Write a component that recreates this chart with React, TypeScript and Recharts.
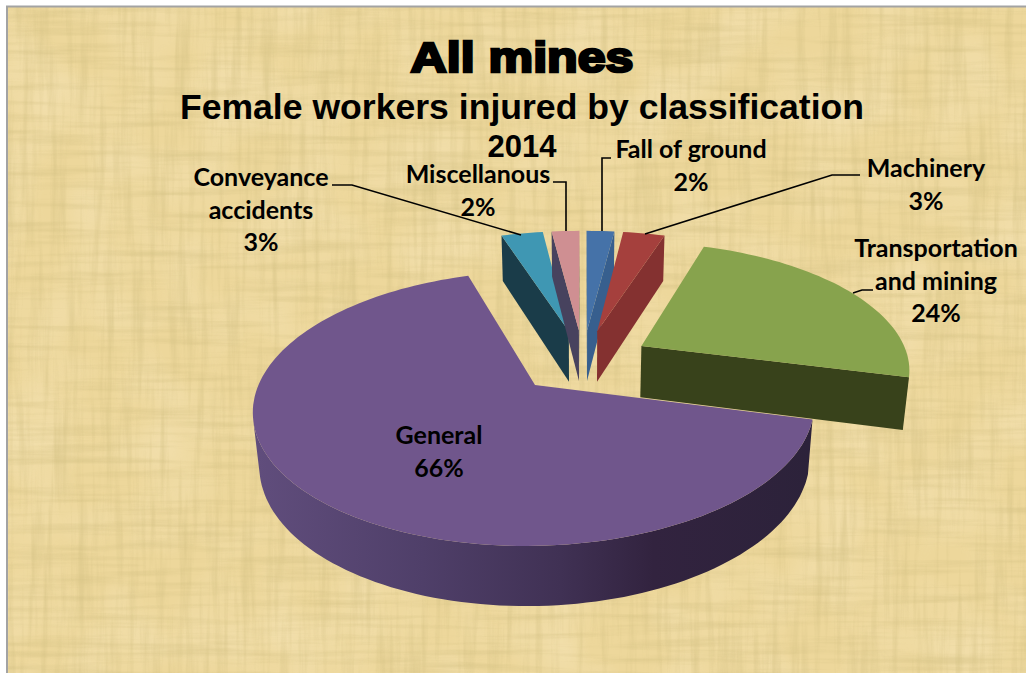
import React from "react";
import { PieChart, Pie, Cell } from "recharts";

const categories = ["Fall of ground", "Machinery", "Transportation and mining", "General", "Conveyance accidents", "Miscellanous"];
const injuredShare = [2, 3, 24, 66, 3, 2];

const topColors = ["#4572a8", "#a5403d", "#87a34d", "#70568c", "#3f97b3", "#cf8f92"];
const wallColors = ["#375f8e", "#843130", "#38421b", "url(#generalWall)", "#1a3c49", "#47425e"];

const labelLines = [
  ["Fall of ground", "2%"],
  ["Machinery", "3%"],
  ["Transportation", "and mining", "24%"],
  ["General", "66%"],
  ["Conveyance", "accidents", "3%"],
  ["Miscellanous", "2%"],
];
const labelAnchors = [
  [691, 158],
  [926, 177],
  [936, 257],
  [439, 444],
  [261, 186],
  [478, 183],
];
const leaders = [
  "611,158 602,158 602,231",
  "860,175 832,175 645,234",
  "873,290 862,290 853,293",
  "",
  "332,185 352,185 521,235",
  "553,182 566,182 566,231",
];

const pieData = categories.map((name, i) => ({ name, value: injuredShare[i] }));

// projection of the tilted pie
const EXPLODE = 68;
const DIST = 1617;
const TILT = 0.468;
const DEPTH = 53;
const DEPTH_W = 0.019;

type Pt = [number, number];

function SliceShape(props: any) {
  const { cx, cy, outerRadius, startAngle, endAngle, index } = props;
  const a0 = ((90 - startAngle) * Math.PI) / 180;
  const a1 = ((90 - endAngle) * Math.PI) / 180;
  const mid = (a0 + a1) / 2;
  const ox = EXPLODE * Math.sin(mid);
  const oy = -EXPLODE * Math.cos(mid);
  const project = (X: number, Y: number, low: boolean): Pt => {
    const w = 1 - Y / DIST + (low ? DEPTH_W : 0);
    return [cx + X / w, cy + (TILT * Y + (low ? DEPTH : 0)) / w];
  };
  const n = Math.max(2, Math.ceil(Math.abs(a1 - a0) / 0.03));
  const arcTop: Pt[] = [];
  const arcLow: Pt[] = [];
  for (let i = 0; i <= n; i++) {
    const t = a0 + ((a1 - a0) * i) / n;
    const X = ox + outerRadius * Math.sin(t);
    const Y = oy - outerRadius * Math.cos(t);
    arcTop.push(project(X, Y, false));
    arcLow.push(project(X, Y, true));
  }
  const apexTop = project(ox, oy, false);
  const apexLow = project(ox, oy, true);

  const toPath = (pts: Pt[]) => "M" + pts.map((p) => p[0].toFixed(1) + "," + p[1].toFixed(1)).join("L") + "Z";
  const facing = (a: Pt, b: Pt, c: Pt, d: Pt) => {
    const q = [a, b, c, d];
    let s = 0;
    for (let i = 0; i < 4; i++) {
      const p = q[i];
      const r = q[(i + 1) % 4];
      s += p[0] * r[1] - r[0] * p[1];
    }
    return s < 0;
  };

  const walls: string[] = [];
  if (facing(apexTop, arcTop[0], arcLow[0], apexLow)) walls.push(toPath([apexTop, arcTop[0], arcLow[0], apexLow]));
  if (facing(arcTop[n], apexTop, apexLow, arcLow[n])) walls.push(toPath([arcTop[n], apexTop, apexLow, arcLow[n]]));
  const seen: number[] = [];
  for (let i = 0; i < n; i++) {
    if (facing(arcTop[i], arcTop[i + 1], arcLow[i + 1], arcLow[i])) seen.push(i);
  }
  if (seen.length) {
    const first = seen[0];
    const last = seen[seen.length - 1] + 1;
    walls.push(toPath([...arcTop.slice(first, last + 1), ...arcLow.slice(first, last + 1).reverse()]));
  }

  return (
    <g>
      {walls.map((d, i) => (
        <path key={i} d={d} fill={wallColors[index]} />
      ))}
      <path d={toPath([apexTop, ...arcTop])} fill={topColors[index]} />
    </g>
  );
}

function SliceLabel(props: any) {
  const { index } = props;
  const [x, y] = labelAnchors[index];
  return (
    <g>
      {leaders[index] && <polyline points={leaders[index]} fill="none" stroke="#000" strokeWidth={1.6} />}
      <text x={x} y={y} textAnchor="middle" fontFamily="Lato" fontWeight={700} fontSize={25} fill="#000">
        {labelLines[index].map((line, i) => (
          <tspan key={i} x={x} y={y + i * 32.5}>
            {line}
          </tspan>
        ))}
      </text>
    </g>
  );
}

function Background() {
  return (
    <svg width={1026} height={673} style={{ position: "absolute", left: 0, top: 0 }}>
      <defs>
        <filter id="weaveH" x="0" y="0" width="100%" height="100%">
          <feTurbulence type="fractalNoise" baseFrequency="0.008 0.14" numOctaves={4} seed={7} />
          <feColorMatrix values="0 0 0 0 0.64  0 0 0 0 0.52  0 0 0 0 0.22  2.6 0 0 0 -1.15" />
        </filter>
        <filter id="weaveV" x="0" y="0" width="100%" height="100%">
          <feTurbulence type="fractalNoise" baseFrequency="0.14 0.008" numOctaves={4} seed={11} />
          <feColorMatrix values="0 0 0 0 0.64  0 0 0 0 0.52  0 0 0 0 0.22  2.6 0 0 0 -1.15" />
        </filter>
        <filter id="blotch" x="0" y="0" width="100%" height="100%">
          <feTurbulence type="fractalNoise" baseFrequency="0.015 0.015" numOctaves={2} seed={3} />
          <feColorMatrix values="0 0 0 0 0.97  0 0 0 0 0.86  0 0 0 0 0.62  1.4 0 0 0 -0.5" />
        </filter>
      </defs>
      <rect x={7} y={6} width={1019} height={667} fill="#edd79b" />
      <rect x={7} y={6} width={1019} height={667} filter="url(#blotch)" opacity={0.45} />
      <rect x={7} y={6} width={1019} height={667} filter="url(#weaveH)" opacity={0.38} />
      <rect x={7} y={6} width={1019} height={667} filter="url(#weaveV)" opacity={0.38} />
      <path d="M7,673V6.5H1026" fill="none" stroke="#a3a3a3" strokeWidth={2} />
    </svg>
  );
}

export default function App() {
  return (
    <div style={{ position: "absolute", left: 0, top: 0, width: 1026, height: 673, overflow: "hidden", background: "#fff" }}>
      <Background />
      <div style={{ position: "absolute", left: 0, top: 0 }}>
        <PieChart width={1026} height={673} margin={{ top: 0, right: 0, bottom: 0, left: 0 }}>
          <defs>
            <linearGradient id="generalWall" gradientUnits="userSpaceOnUse" x1={258} y1={0} x2={808} y2={0}>
              <stop offset="0" stopColor="#604d7c" />
              <stop offset="0.3" stopColor="#4f3f69" />
              <stop offset="0.55" stopColor="#403154" />
              <stop offset="0.72" stopColor="#32233f" />
              <stop offset="1" stopColor="#2c223a" />
            </linearGradient>
          </defs>
          <Pie
            data={pieData}
            dataKey="value"
            nameKey="name"
            cx={583}
            cy={361}
            outerRadius={268}
            startAngle={90}
            endAngle={-270}
            stroke="none"
            isAnimationActive={false}
            shape={SliceShape}
            label={SliceLabel}
            labelLine={false}
          >
            {pieData.map((d, i) => (
              <Cell key={d.name} fill={topColors[i]} />
            ))}
          </Pie>
          <text x={522} y={72} textAnchor="middle" fontFamily="Liberation Sans" fontWeight={700} fontSize={43} stroke="#000" strokeWidth={2.6} fill="#000" textLength={223} lengthAdjust="spacingAndGlyphs">
            All mines
          </text>
          <text x={522} y={119} textAnchor="middle" fontFamily="Liberation Sans" fontWeight={700} fontSize={35.6} fill="#000">
            Female workers injured by classification
          </text>
          <text x={522} y={157} textAnchor="middle" fontFamily="Liberation Sans" fontWeight={700} fontSize={31} fill="#000">
            2014
          </text>
        </PieChart>
      </div>
    </div>
  );
}
